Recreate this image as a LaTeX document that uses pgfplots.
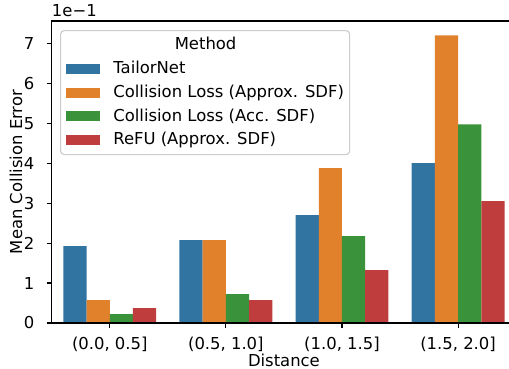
\documentclass[border=0pt]{standalone}
\usepackage{fontspec}
\setmainfont{DejaVu Sans}
\usepackage{pgfplots}
\pgfplotsset{compat=1.18}
\definecolor{cblue}{HTML}{3274A1}
\definecolor{corange}{HTML}{E1812C}
\definecolor{cgreen}{HTML}{3A923A}
\definecolor{cred}{HTML}{C03D3E}
\newcommand{\fs}{\fontsize{11.5}{13.8}\selectfont}
\pgfplotsset{patchlegend/.style={legend image code/.code={\fill[##1, sharp corners, fill opacity=1] (0pt,-3.5pt) rectangle (23.8pt,3.5pt);}}}
\begin{document}
\begin{tikzpicture}
\begin{axis}[
  name=ax,
  scale only axis, width=325.1pt, height=211.4pt,
  clip=false,
  xmin=-0.5, xmax=3.5, ymin=0, ymax=0.756,
  xtick={0,1,2,3},
  xticklabels={{(0.0, 0.5]},{(0.5, 1.0]},{(1.0, 1.5]},{(1.5, 2.0]}},
  ytick={0,0.1,0.2,0.3,0.4,0.5,0.6,0.7},
  yticklabels={0,1,2,3,4,5,6,7},
  xtick pos=left, ytick pos=left,
  tick align=outside, major tick length=3.5pt,
  tick style={black, line width=0.8pt},
  axis line style={draw=none},
  /pgf/number format/assume math mode=true,
  ticklabel style={font=\fs, inner sep=0pt},
  xticklabel shift=6pt, yticklabel shift=8.5pt,
  xlabel={Distance}, ylabel={Mean Collision Error},
  label style={font=\fs, inner sep=0pt},
  xlabel style={at={(axis description cs:0.5,0)}, anchor=base, yshift=-30.6pt},
  ylabel style={at={([xshift=-20.3pt]axis description cs:0,0.5)}, anchor=south},
  ybar, bar width=0.2,
  legend cell align=left,
  legend style={at={(0.018,0.97)}, anchor=north west,
    draw=black!20, line width=0.8pt, rounded corners=2.5pt,
    fill=white, fill opacity=0.8, text opacity=1,
    font=\fs, inner xsep=4pt, inner ysep=4.7pt,
    row sep=6.1pt, column sep=9.1pt,
    nodes={inner sep=0pt, text height=8.5pt, text depth=2.1pt}},
]
\addlegendimage{empty legend}
\addlegendentry{\hspace*{43pt}Method}
\addplot[fill=cblue, draw=none, bar shift=-0.3, patchlegend] coordinates {(0,0.1925) (1,0.2075) (2,0.270) (3,0.400)};
\addlegendentry{TailorNet}
\addplot[fill=corange, draw=none, bar shift=-0.1, patchlegend] coordinates {(0,0.0575) (1,0.2075) (2,0.3875) (3,0.720)};
\addlegendentry{Collision Loss (Approx. SDF)}
\addplot[fill=cgreen, draw=none, bar shift=0.1, patchlegend] coordinates {(0,0.0225) (1,0.0725) (2,0.2175) (3,0.4975)};
\addlegendentry{Collision Loss (Acc. SDF)}
\addplot[fill=cred, draw=none, bar shift=0.3, patchlegend] coordinates {(0,0.0375) (1,0.0575) (2,0.1325) (3,0.305)};
\addlegendentry{ReFU (Approx. SDF)}
\draw[black, line width=0.8pt] (rel axis cs:0,0) -- (rel axis cs:0,1) -- (rel axis cs:1,1);
\draw[black, line width=0.8pt] (rel axis cs:0,0) -- (rel axis cs:1,0);
\end{axis}
\node[anchor=south west, inner sep=0pt, font=\fs, yshift=2.5pt] at (ax.north west) {1e−1};
\pgfresetboundingbox
\path[use as bounding box] ([shift={(-36.2pt,-32.2pt)}]ax.south west) rectangle ([shift={(320.1pt,226.1pt)}]ax.south west);
\end{tikzpicture}
\end{document}
